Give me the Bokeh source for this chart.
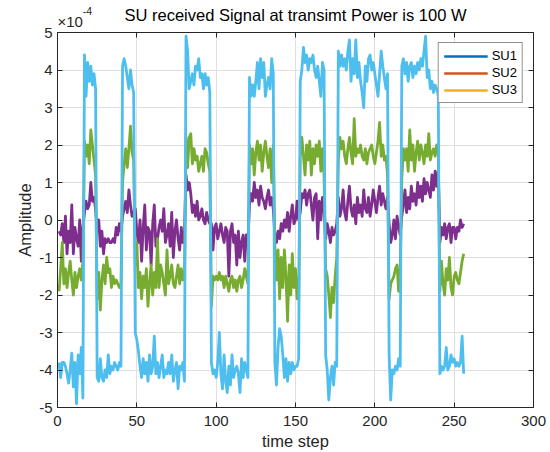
import json
from bokeh.plotting import figure
from bokeh.models import (LinearAxis, FixedTicker, CustomJSTickFormatter,
                          Legend, LegendItem, Range1d)
from bokeh.embed import file_html
from bokeh.resources import INLINE

# ---------------- data (amplitudes in units of 1e-4) ----------------
scale = 1e-4
time_step = list(range(1, 257))

sig_cyan = [
    -3.8, -4.2, -3.8, -3.8, -3.9, -4.1, -4.35, -4.0, -3.55, -4.45, -3.8, -4.9, -3.6, -4.1, -3.4, -4.75,
    4.4, 3.3, 4.2, 3.7, 4.1, 3.6, 3.9, 3.5,
    -4.2, -4.3, -3.7, -4.2, -4.3, -4.0, -4.2, -3.6, -4.1, -3.9, -4.0, -3.8, -3.9, -4.0, -3.8, -3.9,
    4.1, 4.3, 4.1, 3.8, 3.5, 4.0, 3.6, 3.4,
    -3.0, -3.2, -3.5, -3.9, -4.2, -3.7, -4.1, -3.8, -4.3, -3.6, -4.1, -3.9, -3.1, -4.1, -3.8, -4.2,
    -3.9, -3.6, -4.2, -4.0, -4.1, -3.8, -4.1, -3.6, -4.3, -4.0, -3.8, -4.5, -3.9, -4.0, -3.8, -4.3,
    4.9, 4.5, 3.5, 3.7, 3.9, 3.6, 4.1, 4.0, 4.3, 3.8, 3.9, 3.5, 3.9, 3.6, 3.8, 3.4,
    -3.8, -4.1, -4.0, -4.2, -3.8, -3.0, -4.1, -4.5, -3.6, -4.3, -4.6, -3.9, -4.4, -3.6, -4.2, -4.0,
    -3.9, -4.1, -4.6, -3.7, -4.2, -3.8, -4.0, -4.2,
    3.8, 3.3, 3.6, 3.3, 3.7, 4.2, 3.5, 4.3, 3.8, 4.2, 3.3, 3.6, 3.8, 3.5, 4.3, 3.9,
    -3.8, -4.4, -3.4, -2.9, -3.1, -3.6, -4.2, -3.7, -4.3, -3.8, -4.1, -3.8, -4.0, -3.9, -3.9, -3.7,
    3.7, 4.0, 4.6, 4.2, 4.4, 4.0, 4.3, 4.2, 4.4, 4.0, 3.8, 4.1, 3.7, 3.3, 4.2, 4.0,
    -3.6, -4.0, -4.8, -4.2, -3.9, -4.4, -3.8, -3.9,
    4.5, 4.1, 4.4, 4.1, 4.3, 4.0, 4.5, 4.8, 3.7, 4.3, 3.9, 4.8, 3.8, 4.2, 3.7, 3.4,
    3.0, 4.1, 3.7, 4.3, 4.4, 4.0, 4.2, 3.9, 3.6, 3.3, 3.9, 4.5, 4.1, 3.8, 3.5, 3.9,
    -3.6, -4.8, -4.0, -4.1, -3.9, -4.0, -3.7, -3.9,
    4.1, 4.3, 3.9, 4.2, 3.7, 4.1, 4.2, 3.8, 4.1, 3.9, 4.2, 4.0, 4.3, 4.1, 4.5, 4.9,
    3.8, 4.0, 3.5, 3.7, 3.4, 3.6, 3.5, 3.3,
    -4.1, -3.9, -4.0, -3.9, -3.4, -4.0, -3.9, -3.6, -3.8, -3.7, -3.9, -3.8, -3.9, -3.8, -3.1, -4.1,
]

sig_green = [
    -1.9, -1.3, -0.6, -1.7, -1.3, -1.8, -1.4, -1.1, -1.6, -2.0, -1.4, -1.8, -1.5, -1.3, -1.6, -1.1,
    2.1, 1.7, 2.0, 1.5, 2.4, 2.0, 1.6, 1.2,
    -2.1, -1.4, -2.4, -1.6, -1.2, -1.7, -1.0, -1.4, -1.3, -1.8, -1.5, -1.7, -1.6, -1.7, -1.8, -1.7,
    1.0, 1.5, 1.9, 1.4, 1.9, 2.5, 1.8, 1.6,
    -1.2, -0.6, -1.8, -1.4, -2.1, -1.5, -1.8, -1.3, -2.3, -1.7, -1.2, -2.0, -1.4, -1.8, -0.5, -1.8,
    -1.2, -1.4, -1.7, -2.0, -0.8, -1.7, -1.5, -1.2, -1.7, -1.8, -1.5, -1.2, -1.7, -1.3, -1.6, -1.5,
    2.2, 1.4, 2.2, 2.3, 1.5, 1.9, 1.6, 1.7, 1.3, 1.5, 1.7, 1.3, 1.9, 1.8, 1.5, 1.3,
    -2.3, -1.5, -1.6, -1.5, -1.6, -1.4, -1.6, -1.5, -1.8, -1.5, -1.7, -1.9, -1.6, -1.5, -1.8, -1.6,
    -1.9, -1.6, -1.5, -1.8, -1.6, -1.3, -1.5, -1.7,
    2.0, 1.5, 1.9, 1.2, 1.8, 2.1, 1.6, 2.0, 1.3, 1.8, 2.1, 1.7, 1.4, 1.9, 1.0, 2.0,
    -0.7, -1.6, -0.8, -2.1, -1.0, -1.8, -0.8, -1.5, -2.7, -1.2, -2.0, -0.9, -1.8, -1.3, -2.1, -2.1,
    1.7, 2.2, 1.7, 1.2, 2.0, 1.6, 2.1, 1.2, 1.9, 1.5, 2.0, 1.7, 2.1, 1.3, 1.9, 1.2,
    -1.3, -1.5, -2.0, -2.6, -1.8, -2.2, -1.5, -1.0,
    1.6, 2.2, 1.9, 2.1, 1.7, 1.5, 1.9, 2.2, 1.8, 1.5, 2.7, 1.7, 1.9, 1.8, 2.0, 1.7,
    1.6, 1.9, 1.5, 1.8, 1.9, 2.0, 1.7, 1.5, 1.8, 2.1, 2.6, 1.7, 2.0, 1.6, 1.7, 1.2,
    -2.1, -1.7, -1.6, -1.5, -1.3, -1.2, -1.9, -1.3,
    1.1, 1.9, 1.6, 1.9, 1.3, 2.4, 1.6, 2.0, 1.3, 1.8, 2.1, 1.6, 2.0, 1.8, 1.5, 2.0,
    1.7, 2.3, 1.6, 1.8, 1.9, 1.7, 2.0, 1.8,
    -1.9, -1.1, -1.7, -2.0, -1.3, -1.6, -1.0, -1.8, -2.0, -1.5, -1.4, -1.6, -1.7, -1.4, -1.1, -0.9,
]

sig_purple = [
    -0.3, -0.4, -0.1, -0.6, 0.1, -0.9, -0.3, -0.6, 0.4, -0.9, -0.2, -0.5, -0.7, 0.0, -1.1, -0.2,
    0.2, 0.5, 0.3, 0.4, 1.0, 0.5, 0.6, 0.3,
    -0.3, 0.0, -0.7, -0.3, -0.9, -0.5, -0.6, -0.5, -0.6, -0.6, -0.5, -0.6, -0.2, -0.4, -0.1, -0.3,
    0.1, 0.3, 0.5, 0.2, 0.8, 0.4, 0.1, 0.2,
    0.3, -0.3, -0.6, 0.0, -1.1, -0.2, 0.4, -0.8, -0.2, -0.3, -1.2, -0.1, 0.4, -0.7, -0.5, -0.2,
    0.0, -0.3, 0.3, -0.6, -0.4, -0.1, -0.7, 0.2, -1.0, -0.3, 0.0, -0.5, -0.8, -0.2, -0.6, -0.4,
    1.2, 0.8, 1.0, 0.7, 0.2, 0.4, 0.1, 0.5, 0.0, 0.1, 0.3, 0.0, -0.1, 0.2, 0.0, -0.1,
    -0.1, -0.8, -0.2, -0.1, -0.5, -0.3, -0.1, -0.4, -0.6, -0.2, -0.3, -1.5, -0.3, -0.1, -0.6, -0.4,
    -1.2, -0.3, -1.0, -0.6, -0.4, -1.1, -0.4, -0.6,
    0.4, 0.7, 0.5, 1.0, 0.6, 0.8, 0.4, 0.9, 0.6, 0.5, 0.3, 0.6, 0.8, 0.4, 0.6, 0.3,
    -0.4, -0.6, -0.3, -0.5, -0.1, -0.3, 0.0, -0.2, 0.2, -0.3, 0.1, 0.4, -0.1, 0.0, 0.5, 0.0,
    0.2, 0.7, 0.6, 0.8, 0.4, 0.7, 0.8, 0.4, 0.0, 0.6, 0.7, -0.5, 0.5, 0.0, 0.6, 0.3,
    -0.5, -0.1, -0.3, -0.6, -0.2, -0.4, -0.3, -0.1,
    0.6, 0.1, 0.3, 0.8, 0.2, 0.0, 0.5, 0.9, 0.3, 0.1, 0.4, -0.1, 0.6, 0.2, 0.4, 0.1,
    0.8, 0.3, 0.2, 0.6, 0.1, 0.4, 0.8, 0.5, 0.2, 0.6, 0.9, 0.4, 0.7, 0.5, 0.3, 0.6,
    -0.1, -0.6, -0.4, 0.0, -0.5, 0.1, -0.2, -0.4,
    0.1, 0.4, 0.8, 0.2, 0.6, 0.3, 0.9, 0.5, 0.7, 0.4, 1.0, 0.6, 0.9, 0.5, 1.1, 0.7,
    1.0, 0.8, 0.6, 1.2, 0.8, 1.3, 0.9, 1.3,
    -0.6, -0.2, -0.4, -0.1, -0.5, -0.2, -0.1, -0.6, -0.2, -0.2, -0.5, -0.2, -0.3, 0.0, -0.2, -0.1,
]

legend_labels = ["SU1", "SU2", "SU3"]
legend_colors = ["#0072BD", "#D95319", "#EDB120"]
line_colors = {"cyan": "#4DBEEE", "green": "#77AC30", "purple": "#7E2F8E"}

x_ticks = [0, 50, 100, 150, 200, 250, 300]
y_ticks = [-5, -4, -3, -2, -1, 0, 1, 2, 3, 4, 5]

title_text = "SU received Signal at transimt Power is 100 W"
x_label = "time step"
y_label = "Amplitude"
exp_base = "\u00d710"
exp_power = "-4"

# ---------------- styling ----------------
FONT = "Liberation Sans"
AX = "#262626"
GRID = "#dfdfdf"

p = figure(width=550, height=452, frame_width=476, frame_height=375,
           min_border_left=57, min_border_top=32, min_border_right=17, min_border_bottom=45,
           x_range=Range1d(0, 300), y_range=Range1d(-5 * scale, 5 * scale),
           title=None, output_backend="svg", toolbar_location=None,
           background_fill_color="white", border_fill_color="white")
p.outline_line_color = None

xt = FixedTicker(ticks=x_ticks)
yt = FixedTicker(ticks=[v * scale for v in y_ticks])
yfmt = CustomJSTickFormatter(code="return String(Math.round(tick*1e4));")
blank = CustomJSTickFormatter(code="return '';")

def style_axis(ax):
    ax.axis_line_color = AX
    ax.axis_line_width = 1
    ax.major_tick_line_color = AX
    ax.major_tick_line_width = 1
    ax.major_tick_in = 5
    ax.major_tick_out = 0
    ax.minor_tick_line_color = None
    ax.major_label_text_font = FONT
    ax.major_label_text_color = AX
    ax.major_label_text_font_size = "15px"
    ax.axis_label_text_font = FONT
    ax.axis_label_text_font_size = "16.5px"
    ax.axis_label_text_font_style = "normal"
    ax.axis_label_text_color = AX

xa = p.xaxis[0]
xa.ticker = xt
style_axis(xa)
xa.major_label_standoff = 8
xa.axis_label = x_label
xa.axis_label_standoff = 3

ya = p.yaxis[0]
ya.ticker = yt
ya.formatter = yfmt
style_axis(ya)
ya.major_label_standoff = 5
ya.axis_label = y_label
ya.axis_label_standoff = 2

# box: tick marks on top and right edges
top = LinearAxis(ticker=xt, formatter=blank)
style_axis(top)
top.major_label_text_font_size = "0px"
top.major_label_standoff = 0
p.add_layout(top, "above")
right = LinearAxis(ticker=yt, formatter=blank)
style_axis(right)
right.major_label_text_font_size = "0px"
right.major_label_standoff = 0
p.add_layout(right, "right")

def text_axis(pos, text, size, color, standoff):
    ax = LinearAxis(ticker=FixedTicker(ticks=[pos]),
                    formatter=CustomJSTickFormatter(code="return %s;" % json.dumps(text)))
    ax.axis_line_color = None
    ax.major_tick_line_color = None
    ax.minor_tick_line_color = None
    ax.major_tick_in = 0
    ax.major_tick_out = 0
    ax.major_label_text_font = FONT
    ax.major_label_text_font_size = size
    ax.major_label_text_color = color
    ax.major_label_standoff = standoff
    p.add_layout(ax, "above")
    return ax

# exponent "x10^-4" and title, stacked above the frame
text_axis(8.0, exp_base, "15px", AX, 3)
text_axis(150, title_text, "16.5px", "black", -14)
text_axis(18.9, exp_power, "10.5px", AX, -12)

p.xgrid.ticker = xt
p.ygrid.ticker = yt
p.grid.grid_line_color = GRID
p.grid.grid_line_width = 1

# ---------------- lines (plot order: purple, green, cyan on top) ----------------
for vals, key in [(sig_purple, "purple"), (sig_green, "green"), (sig_cyan, "cyan")]:
    p.line(time_step, [v * scale for v in vals], line_color=line_colors[key],
           line_width=2.8, line_join="round")

items = []
for lab, col in zip(legend_labels, legend_colors):
    r = p.line(x=[float("nan")], y=[float("nan")], line_color=col, line_width=2.6)
    items.append(LegendItem(label=lab, renderers=[r]))
legend = Legend(items=items, location="top_right", margin=10, padding=5, spacing=2,
                glyph_width=44, glyph_height=14, label_height=14, label_standoff=4,
                label_text_font=FONT, label_text_font_size="13px", label_text_color="black",
                border_line_color=AX, border_line_width=1,
                background_fill_color="white", background_fill_alpha=1.0)
p.add_layout(legend)

open("out.html", "w").write(file_html(p, INLINE, title="plot"))
